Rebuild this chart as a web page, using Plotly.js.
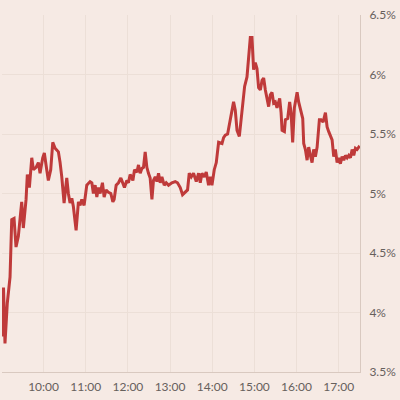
<!DOCTYPE html>
<html>
<head>
<meta charset="utf-8">
<script src="https://cdn.plot.ly/plotly-3.0.1.min.js"></script>
<style>
html,body{margin:0;padding:0;background:#f6eae4;}
#chart{width:400px;height:400px;}
</style>
</head>
<body>
<div id="chart"></div>
<script>
// minutes after 09:00
var minutes = [0.9,1.8,3.0,5.1,8.4,12.3,14.7,18.0,20.8,24.1,28.9,31.2,35.1,36.9,39.8,43.2,45.5,49.3,52.6,55.0,58.8,61.1,64.5,66.8,70.2,73.1,76.4,81.1,83.5,
85.9,89.2,93.0,95.3,97.7,100.2,102.4,106.3,109.6,112.0,114.4,117.7,121.5,
126.2,128.7,130.9,133.4,135.8,138.1,140.5,143.8,146.2,149.0,152.3,155.7,158.6,160.4,163.3,166.6,170.0,172.3,175.1,178.5,180.8,183.2,187.1,189.4,192.8,195.1,197.5,199.9,202.2,204.6,207.0,209.3,211.7,214.2,216.4,218.9,221.3,223.6,226.0,228.4,231.7,234.5,237.8,242.6,247.4,250.6,254.5,257.8,261.6,264.9,267.3,270.2,273.4,277.3,280.6,283.0,285.4,288.7,291.5,294.8,297.2,299.6,302.9,305.8,309.1,
313.9,316.2,318.6,321.9,324.7,328.1,330.4,332.8,335.3,338.6,341.0,343.8,346.1,349.5,351.8,354.2,356.6,358.9,361.3,363.7,366.0,368.5,370.9,373.2,375.6,378.0,380.3,382.7,385.1,387.4,389.8,392.2,396.0,
398.0,399.4,402.7,404.1,407.4,410.2,412.2,414.5,416.9,418.4,420.8,423.0,426.5,428.8,430.2,432.6,435.0,437.3,439.7,442.1,444.4,446.8,449.3,452.5,454.9,457.8,461.1,463.5,465.8,468.2,470.6,472.9,475.3,477.7,480.0,482.4,484.8,487.2,489.6,492.0,494.3,496.7,499.1,501.4,503.8,506.2,508.5,510.0];

var yields = [3.88,3.80,4.21,3.74,4.08,4.30,4.78,4.79,4.55,4.64,4.93,4.71,4.95,5.16,5.05,5.30,5.20,5.22,5.26,5.17,5.30,5.34,5.20,5.11,5.20,5.43,5.38,5.35,5.26,
5.14,4.92,5.13,5.00,4.92,4.96,4.89,4.69,4.93,4.90,4.95,4.90,5.07,
5.10,5.09,5.00,5.07,4.97,5.05,5.00,5.09,4.97,5.03,5.01,5.00,4.93,4.95,5.07,5.09,5.13,5.09,5.05,5.11,5.09,5.16,5.11,5.20,5.18,5.24,5.17,5.21,5.22,5.35,5.22,5.17,5.13,4.95,5.11,5.14,5.10,5.17,5.09,5.14,5.07,5.09,5.07,5.09,5.10,5.09,5.05,4.99,5.01,5.03,5.17,5.14,5.17,5.10,5.17,5.09,5.17,5.14,5.18,5.07,5.14,5.07,5.20,5.26,5.43,
5.42,5.47,5.49,5.50,5.59,5.73,5.77,5.70,5.53,5.48,5.62,5.73,5.90,5.98,6.18,6.31,6.31,6.04,6.10,6.05,5.89,5.87,5.95,5.97,5.87,5.79,5.73,5.83,5.85,5.76,5.77,5.72,5.80,
5.68,5.53,5.52,5.62,5.63,5.77,5.68,5.43,5.72,5.77,5.85,5.77,5.68,5.63,5.42,5.37,5.28,5.39,5.32,5.26,5.37,5.31,5.39,5.62,5.62,5.60,5.68,5.56,5.52,5.49,5.45,5.31,5.37,5.26,5.30,5.25,5.31,5.28,5.32,5.30,5.32,5.30,5.37,5.32,5.38,5.37,5.39,5.38];

var hourTicks = ["10:00","11:00","12:00","13:00","14:00","15:00","16:00","17:00"];
var yTickVals = [3.5,4,4.5,5,5.5,6,6.5];
var yTickText = ["3.5%","4%","4.5%","5%","5.5%","6%","6.5%"];

var day = "2024-01-02 ";
function toStamp(m){
  var total = Math.round(m*60);
  var h = 9 + Math.floor(total/3600);
  var mm = Math.floor((total%3600)/60);
  var ss = total%60;
  function p(n){return (n<10?"0":"")+n;}
  return day + p(h)+":"+p(mm)+":"+p(ss);
}
var xs = minutes.map(toStamp);
var tickVals = hourTicks.map(function(t){return day + t + ":00";});

var trace = {
  x: xs, y: yields, type: "scatter", mode: "lines",
  line: {color: "#bf3a3a", width: 3},
  hoverinfo: "none"
};

var layout = {
  width: 400, height: 400,
  paper_bgcolor: "#f6eae4", plot_bgcolor: "#f6eae4",
  margin: {l: 2, r: 40, t: 15, b: 28},
  showlegend: false,
  font: {family: "Lato, 'Open Sans', sans-serif", color: "#66605c", size: 12},
  xaxis: {
    type: "date",
    range: [toStamp(0.85), toStamp(510.3)],
    tickvals: tickVals, ticktext: hourTicks,
    showgrid: true, gridcolor: "#ecdfd7", gridwidth: 1,
    showline: true, linecolor: "#d9c9c0", linewidth: 1,
    ticks: "", zeroline: false,
    ticklabelstandoff: 4,
    tickfont: {size: 12, color: "#66605c"}
  },
  yaxis: {
    side: "right",
    range: [3.5, 6.5],
    tickvals: yTickVals, ticktext: yTickText,
    showgrid: true, gridcolor: "#ecdfd7", gridwidth: 1,
    showline: true, linecolor: "#d9c9c0", linewidth: 1,
    ticks: "", zeroline: false,
    ticklabelstandoff: 6,
    tickfont: {size: 12, color: "#66605c"}
  }
};

Plotly.newPlot("chart", [trace], layout, {staticPlot: true, displayModeBar: false});
</script>
</body>
</html>
